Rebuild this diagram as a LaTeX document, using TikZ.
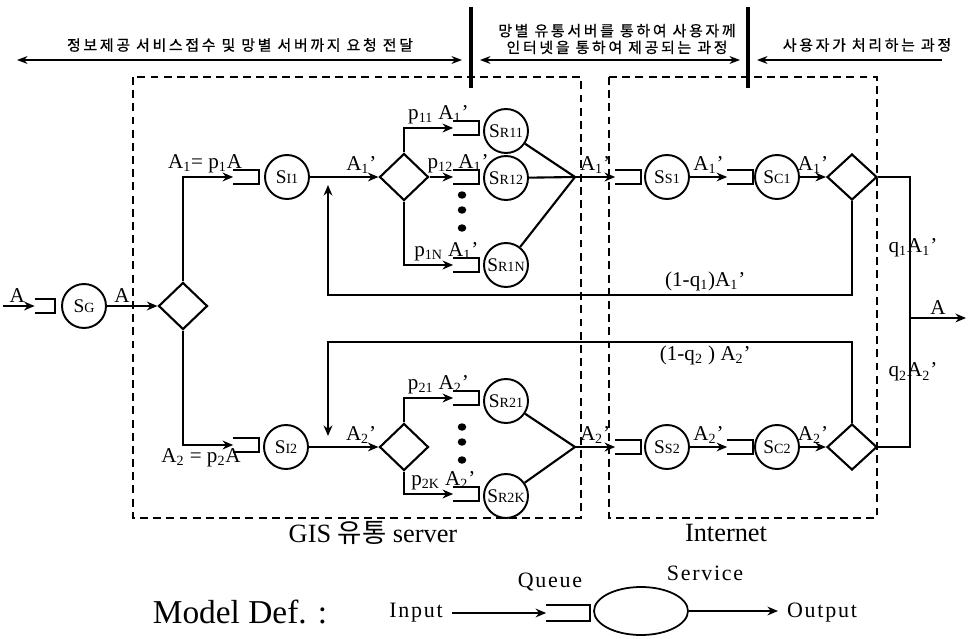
\documentclass[tikz,border=0pt]{standalone}
\usepackage{fontspec}
\setmainfont{Liberation Serif}
\newfontfamily\krfont[LetterSpace=18, FakeBold=0.8]{Noto Sans CJK KR}
\newfontfamily\krtight{Noto Sans CJK KR}
\newfontfamily\legfont[LetterSpace=8]{Liberation Serif}
\usetikzlibrary{arrows.meta,shapes.geometric}

% server label: S with a small index
\newcommand{\srvlab}[1]{S{\fontsize{8}{8}\selectfont #1}}
% flow label: letter, subscript and prime
\newcommand{\fl}[2]{#1\textsubscript{#2}’}

\begin{document}
\begin{tikzpicture}[
    x=0.02cm, y=-0.02cm,
    server/.style={circle, draw, line width=1.1pt, minimum size=0.88cm, inner sep=0pt, font=\fontsize{11}{11}\selectfont},
    queue/.style={inner sep=0pt, minimum width=0.5cm, minimum height=0.26cm,
        append after command={\pgfextra{\draw[line width=1.2pt] (\tikzlastnode.north west) -- (\tikzlastnode.north east) -- (\tikzlastnode.south east) -- (\tikzlastnode.south west);}}},
    router/.style={diamond, draw, line width=1.2pt, minimum width=0.98cm, minimum height=0.94cm, inner sep=0pt},
    flow/.style={-{Stealth[length=6pt, width=5pt]}, line width=1.2pt},
    feed/.style={-{Stealth[length=6pt, width=5pt]}, line width=0.8pt},
    link/.style={line width=1.2pt},
    rate/.style={font=\fontsize{12}{12}\selectfont, inner sep=1.5pt},
    zone/.style={line width=1.2pt, dash pattern=on 4.5pt off 3pt},
    span/.style={line width=0.8pt},
    bar/.style={line width=2pt},
    stage/.style={font=\krfont\fontsize{8.5}{9.5}\selectfont, align=center, inner sep=0pt},
    legend/.style={font=\legfont\fontsize{12.5}{12.5}\selectfont, inner sep=1pt}
]
    \useasboundingbox (0,0) rectangle (968,639);

    % stages on top
    \coordinate (l1a) at (17,60);
    \coordinate (l1b) at (462,60);
    \coordinate (l2a) at (480,60);
    \coordinate (l2b) at (740,60);
    \coordinate (l3a) at (942,60);
    \coordinate (l3b) at (757,60);
    \draw[span, {Stealth[length=6pt, width=4.5pt]}-{Stealth[length=6pt, width=4.5pt]}] (l1a) -- (l1b);
    \draw[span, {Stealth[length=6pt, width=4.5pt]}-{Stealth[length=6pt, width=4.5pt]}] (l2a) -- (l2b);
    \draw[span, -{Stealth[length=6pt, width=4.5pt]}] (l3a) -- (l3b);
    \node[stage] (st1) at (240,45) {정보제공 서비스접수 및 망별 서버까지 요청 전달};
    \node[stage] (st2) at (617,39) {망별 유통서버를 통하여 사용자께\\인터넷을 통하여 제공되는 과정};
    \node[stage] (st3) at (867,45) {사용자가 처리하는 과정};
    \draw[bar] (471,7) -- (471,88);
    \draw[bar] (748,7) -- (748,88);

    % dashed zones
    \draw[zone] (133,77) rectangle (581,518);
    \draw[zone] (609,77) rectangle (877,518);
    \node[font=\fontsize{15}{15}\selectfont] (gis) at (373,533) {GIS {\krtight 유통} server};
    \node[font=\fontsize{15}{15}\selectfont] (inet) at (726,533) {Internet};

    % source
    \coordinate (in) at (3,306);
    \node[queue, minimum width=0.4cm] (qg) at (45,306) {};
    \node[server] (sg) at (84,306) {\srvlab{G}};
    \node[router] (d0) at (183,306) {};

    % first class
    \node[queue] (q1) at (246,177) {};
    \node[server] (s11) at (287,177) {\srvlab{I1}};
    \node[router] (d1) at (404,177) {};
    \node[queue] (q11) at (466,128) {};
    \node[queue] (q12) at (466,177) {};
    \node[queue] (q1n) at (466,265) {};
    \node[server] (sr11) at (506,131) {\srvlab{R11}};
    \node[server] (sr12) at (506,178) {\srvlab{R12}};
    \node[server] (sr1n) at (506,265) {\srvlab{R1N}};
    \coordinate (m1) at (575,177);
    \node[queue] (qs1) at (628,177) {};
    \node[server] (ss1) at (667,177) {\srvlab{S1}};
    \node[queue] (qc1) at (740,177) {};
    \node[server] (sc1) at (777,177) {\srvlab{C1}};
    \node[router, minimum width=1cm, minimum height=0.92cm] (d2) at (852,177) {};
    \coordinate (fb1) at (328,185);

    % second class
    \node[queue] (q2) at (246,445) {};
    \node[server] (s12) at (286,447) {\srvlab{I2}};
    \node[router] (d3) at (404,447) {};
    \node[queue] (q21) at (466,398) {};
    \node[queue] (q2k) at (466,494) {};
    \node[server] (sr21) at (506,401) {\srvlab{R21}};
    \node[server] (sr2k) at (506,496) {\srvlab{R2K}};
    \coordinate (m2) at (575,447);
    \node[queue] (qs2) at (628,447) {};
    \node[server] (ss2) at (667,447) {\srvlab{S2}};
    \node[queue] (qc2) at (740,447) {};
    \node[server] (sc2) at (777,447) {\srvlab{C2}};
    \node[router, minimum width=1cm, minimum height=0.92cm] (d4) at (852,447) {};
    \coordinate (fb2) at (328,436);

    % output bus
    \coordinate (tap) at (910,318);
    \coordinate (out) at (966,318);

    \foreach \y in {195,210,228,427,442,460}
        \fill (462,\y) circle[x radius=0.085cm, y radius=0.075cm];

    % source flows
    \draw[flow] (in) -- node[rate, above, pos=.45]{A} (qg.west);
    \draw[flow] (sg) -- node[rate, above, pos=.3]{A} (d0.west);
    \draw[flow] (d0.north) |- node[rate, above, pos=.72]{A\textsubscript{1}= p\textsubscript{1}A} (q1.west);
    \draw[flow] (d0.south) |- node[rate, below, pos=.68]{A\textsubscript{2} = p\textsubscript{2}A} (q2.west);

    % first class flows
    \draw[feed] (s11) -- node[rate, above, pos=.75]{\fl{A}{1}} (d1.west);
    \draw[flow] (d1.north) |- node[rate, above, pos=.85]{p\textsubscript{11} \fl{A}{1}} (q11.west);
    \draw[flow] (d1.east) -- node[rate, above, pos=1, xshift=0.1cm]{p\textsubscript{12} \fl{A}{1}} (q12.west);
    \draw[flow] (d1.south) |- node[rate, above, pos=.93]{p\textsubscript{1N} \fl{A}{1}} (q1n.west);
    \draw[link] (sr11) -- (m1);
    \draw[link] (sr12) -- (m1);
    \draw[link] (sr1n) -- (m1);
    \draw[flow] (m1) -- node[rate, above]{\fl{A}{1}} (qs1.west);
    \draw[feed] (ss1) -- node[rate, above]{\fl{A}{1}} (qc1.west);
    \draw[feed] (sc1) -- node[rate, above]{\fl{A}{1}} (d2.west);
    \draw[flow] (d2.south) -- (852,295) -| node[rate, above, pos=.14]{(1-q\textsubscript{1})\fl{A}{1}} (fb1);

    % second class flows
    \draw[feed] (s12) -- node[rate, above, pos=.75]{\fl{A}{2}} (d3.west);
    \draw[flow] (d3.north) |- node[rate, above, pos=.85]{p\textsubscript{21} \fl{A}{2}} (q21.west);
    \draw[flow] (d3.south) |- node[rate, above, pos=.9]{p\textsubscript{2K} \fl{A}{2}} (q2k.west);
    \draw[link] (sr21) -- (m2);
    \draw[link] (sr2k) -- (m2);
    \draw[flow] (m2) -- node[rate, above]{\fl{A}{2}} (qs2.west);
    \draw[feed] (ss2) -- node[rate, above]{\fl{A}{2}} (qc2.west);
    \draw[feed] (sc2) -- node[rate, above]{\fl{A}{2}} (d4.west);
    \draw[flow] (d4.north) -- (852,342) -| node[rate, below, pos=.14]{(1-q\textsubscript{2} ) \fl{A}{2}} (fb2);

    % user side
    \draw[link] (d2.east) -| node[rate, pos=.75, xshift=0.06cm]{q\textsubscript{1}\fl{A}{1}} (tap)
        |- node[rate, pos=.21, xshift=0.06cm]{q\textsubscript{2}\fl{A}{2}} (d4.east);
    \draw[flow] (tap) -- node[rate, above]{A} (out);

    % model definition
    \node[font=\fontsize{19}{19}\selectfont] (mdef) at (240,612) {Model Def. :};
    \node[legend] (lin) at (416,613) {Input};
    \node[queue, minimum width=0.86cm, minimum height=0.32cm] (lq) at (568,613) {};
    \node[ellipse, draw, line width=1pt, minimum width=1.88cm, minimum height=0.96cm] (lsv) at (641,611) {};
    \node[legend] (lout) at (822,613) {Output};
    \node[legend] (lqt) at (550,582) {Queue};
    \node[legend] (lst) at (705,573) {Service};
    \draw[feed, shorten <=4pt] (lin.east) -- (lin.east -| lq.west);
    \draw[feed, shorten >=4pt] (lsv.east) -- (lsv.east -| lout.west);
\end{tikzpicture}
\end{document}
